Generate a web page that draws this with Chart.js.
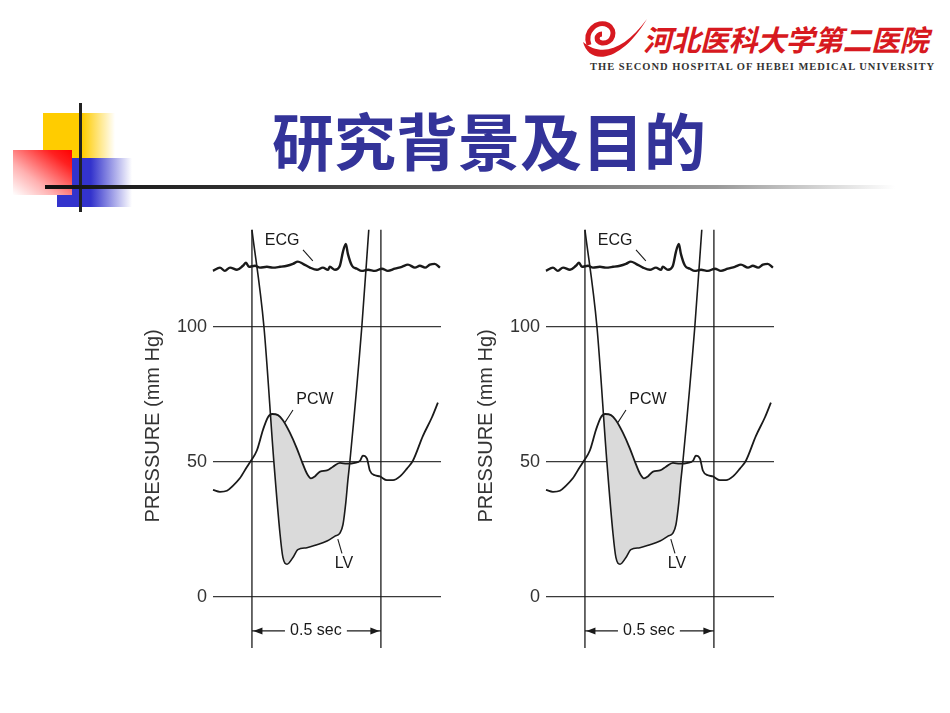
<!DOCTYPE html>
<html>
<head>
<meta charset="utf-8">
<script src="https://cdn.jsdelivr.net/npm/chart.js@4.4.1/dist/chart.umd.min.js"></script>
<style>
  body { margin: 0; width: 950px; height: 713px; position: relative; background: #fff; overflow: hidden; }
  .abs { position: absolute; }
  #yellow { left: 43px; top: 113px; width: 72px; height: 45px;
    background: linear-gradient(to right, #ffcc00 0%, #ffcc00 55%, rgba(255,204,0,0) 100%); }
  #blue { left: 57px; top: 158px; width: 75px; height: 49px;
    background: linear-gradient(to right, #3333cc 0%, #3333cc 45%, rgba(51,51,204,0) 100%); }
  #red { left: 13px; top: 150px; width: 59px; height: 45px;
    background: linear-gradient(to top right, #fff 0%, #ffb0b0 35%, #ff2020 80%, #ff0000 100%); }
  #vline { left: 79px; top: 103px; width: 3px; height: 109px; background: #222; }
  #hline { left: 45px; top: 185px; width: 850px; height: 4px;
    background: linear-gradient(to right, #111 0%, #333 25%, #999 79%, rgba(255,255,255,0) 100%); }
  #title { left: 272px; top: 105px; font: 700 62px "Noto Sans CJK SC", sans-serif; line-height: 68px;
    color: #333399; white-space: nowrap; }
  #logoText { left: 643px; top: 18px; font: 700 29px "Noto Sans CJK SC", sans-serif; color: #d71920;
    font-style: italic; letter-spacing: -0.5px; white-space: nowrap; line-height: 40px; }
  #logoSub { left: 590px; top: 61px; font: 700 10.5px "Liberation Serif", serif; color: #333;
    letter-spacing: 1px; white-space: nowrap; }
  .panel { position: absolute; top: 213px; width: 320px; height: 449px; }
</style>
</head>
<body>
<div id="yellow" class="abs"></div>
<div id="blue" class="abs"></div>
<div id="red" class="abs"></div>
<div id="vline" class="abs"></div>
<div id="hline" class="abs"></div>
<div id="title" class="abs">研究背景及目的</div>

<svg class="abs" style="left:580px;top:12px" width="70" height="55">
  <path d="M9 33 C4 19 17 8 28 13 C37 18 33 32 22 31 C15 30 16 22 22 22" stroke="#d71920" stroke-width="5" fill="none"/>
  <path d="M3 30 C9 53 40 52 67 7 C45 37 22 46 3 30 Z" fill="#d71920"/>
</svg>
<div id="logoText" class="abs">河北医科大学第二医院</div>
<div id="logoSub" class="abs">THE SECOND HOSPITAL OF HEBEI MEDICAL UNIVERSITY</div>

<div class="panel" style="left:130px"><canvas id="leftChart"></canvas></div>
<div class="panel" style="left:463px"><canvas id="rightChart"></canvas></div>

<script>
// time in seconds (0 = first marker line), pressure in mmHg
const ecgTime = [-0.151,-0.124,-0.105,-0.085,-0.058,-0.035,-0.023,-0.012,0.012,0.031,0.058,0.081,0.109,0.136,0.159,
  0.178,0.198,0.225,0.252,0.275,0.295,0.302,0.322,0.341,0.353,0.364,0.372,0.388,0.407,0.426,0.450,0.477,0.504,0.527,
  0.554,0.581,0.605,0.632,0.651,0.671,0.690,0.709,0.729];
const ecgPressure = [120.7,121.9,120.7,121.9,121.1,122.6,123.7,122.2,122.6,121.9,122.2,121.9,122.2,122.6,123.3,
  124.1,123.3,121.9,121.1,121.9,121.1,122.2,121.1,122.6,127.8,130.7,127.0,122.6,121.5,120.7,121.1,120.7,121.5,120.7,
  121.5,122.2,123.0,121.9,122.6,121.9,123.0,123.3,121.9];

const pcwTime = [-0.151,-0.124,-0.097,-0.074,-0.047,-0.019,-0.004,0.019,0.043,0.062,0.078,0.101,0.120,0.147,0.174,
  0.194,0.213,0.229,0.244,0.264,0.291,0.314,0.341,0.368,0.399,0.419,0.430,0.446,0.457,0.477,0.496,0.523,0.547,0.574,
  0.601,0.624,0.663,0.698,0.721];
const pcwPressure = [39.6,38.9,39.3,41.1,43.9,48.2,50.4,54.2,61.9,66.5,67.7,67.3,65.4,60.8,55.0,
  50.0,45.7,43.9,44.6,46.4,46.8,48.2,49.6,49.3,49.6,50.4,52.3,51.2,46.8,45.0,44.6,43.2,43.2,44.6,
  47.5,50.4,59.6,66.5,71.9];

const lvTime = [0,0.0465,0.085,0.109,0.120,0.136,0.159,0.178,0.213,0.252,0.291,0.322,0.341,0.353,0.364,0.372,0.380,0.426,0.453];
const lvPressure = [135.9,100,50,23.2,14.6,12.1,14.6,17.5,18.2,19.3,20.7,22.5,23.6,26.8,35.0,43.2,50.4,100,135.9];

const yTicks = [0, 50, 100];
const markerTimes = [0, 0.5];
const timeRange = [-0.151, 0.733];
const axisRange = [-9.3, 135.9];
const markerRange = [-18.9, 135.9];

// text labels and their leader lines, in data units
const curveLabels = [
  { text: 'ECG', t: 0.117, p: 131.9, size: 16 },
  { text: 'PCW', t: 0.244, p: 73.1, size: 16 },
  { text: 'LV', t: 0.357, p: 12.5, size: 16 },
  { text: '0.5 sec', t: 0.248, p: -12.6, size: 16 }
];
const leaders = [
  [[0.198, 128.5], [0.236, 124.4]],
  [[0.159, 69.2], [0.128, 64.6]],
  [[0.349, 16.1], [0.333, 21.4]]
];
const bracketY = -12.6;
const bracketGap = [0.128, 0.368];

const ink = '#1a1a1a';
const font = '"Liberation Sans", Arial, sans-serif';

const toPoints = (xs, ys) => xs.map((x, i) => ({ x: x, y: ys[i] }));

const labelPlugin = {
  id: 'curveLabels',
  afterDatasetsDraw(chart) {
    const { ctx, scales: { x, y } } = chart;
    ctx.save();
    ctx.fillStyle = ink;
    ctx.textAlign = 'center';
    ctx.textBaseline = 'middle';
    curveLabels.forEach(l => {
      ctx.font = l.size + 'px ' + font;
      ctx.fillText(l.text, x.getPixelForValue(l.t), y.getPixelForValue(l.p));
    });
    // arrow heads of the 0.5 sec bracket, pointing at the marker lines
    const py = y.getPixelForValue(bracketY);
    markerTimes.forEach((t, i) => {
      const dir = i === 0 ? -1 : 1;
      const tip = x.getPixelForValue(t) - dir * 1.5;
      ctx.beginPath();
      ctx.moveTo(tip, py);
      ctx.lineTo(tip - dir * 9, py - 3.5);
      ctx.lineTo(tip - dir * 9, py + 3.5);
      ctx.closePath();
      ctx.fill();
    });
    ctx.restore();
  }
};

function makeChart(id) {
  const datasets = [];
  const line = (data, width, extra) => Object.assign({
    data: data, borderColor: ink, borderWidth: width, pointRadius: 0,
    fill: false, cubicInterpolationMode: 'monotone', clip: false
  }, extra || {});

  datasets.push(line(toPoints(pcwTime, pcwPressure), 1.8));      // 0
  datasets.push(line(toPoints(lvTime, lvPressure), 1.6, {
    fill: { target: 0, above: 'rgba(0,0,0,0)', below: '#dadada' }
  }));
  datasets.push(line(toPoints(ecgTime, ecgPressure), 2.4));
  markerTimes.forEach(t => {
    datasets.push(line([{ x: t, y: markerRange[0] }, { x: t, y: markerRange[1] }], 1.3));
  });
  leaders.forEach(seg => {
    datasets.push(line(seg.map(s => ({ x: s[0], y: s[1] })), 1.1));
  });
  // 0.5 sec bracket
  datasets.push(line([{ x: markerTimes[0], y: bracketY }, { x: bracketGap[0], y: bracketY }], 1.2));
  datasets.push(line([{ x: bracketGap[1], y: bracketY }, { x: markerTimes[1], y: bracketY }], 1.2));

  return new Chart(document.getElementById(id), {
    type: 'line',
    data: { datasets: datasets },
    plugins: [labelPlugin],
    options: {
      responsive: true,
      maintainAspectRatio: false,
      animation: false,
      layout: { padding: { top: 0, right: 9, bottom: 40, left: 0 } },
      plugins: { legend: { display: false }, tooltip: { enabled: false } },
      scales: {
        x: { type: 'linear', display: false, min: timeRange[0], max: timeRange[1] },
        y: {
          type: 'linear', min: axisRange[0], max: axisRange[1],
          afterBuildTicks: axis => { axis.ticks = yTicks.map(v => ({ value: v })); },
          afterFit: axis => { axis.width = 83; },
          border: { display: false },
          grid: { color: '#3a3a3a', lineWidth: 1.2, drawTicks: false },
          ticks: { color: '#333', padding: 6, font: { family: font, size: 18 } },
          title: { display: true, text: 'PRESSURE (mm Hg)', color: '#333',
            font: { family: font, size: 20 }, padding: { top: 11, bottom: 0 } }
        }
      }
    }
  });
}

makeChart('leftChart');
makeChart('rightChart');
</script>
</body>
</html>
